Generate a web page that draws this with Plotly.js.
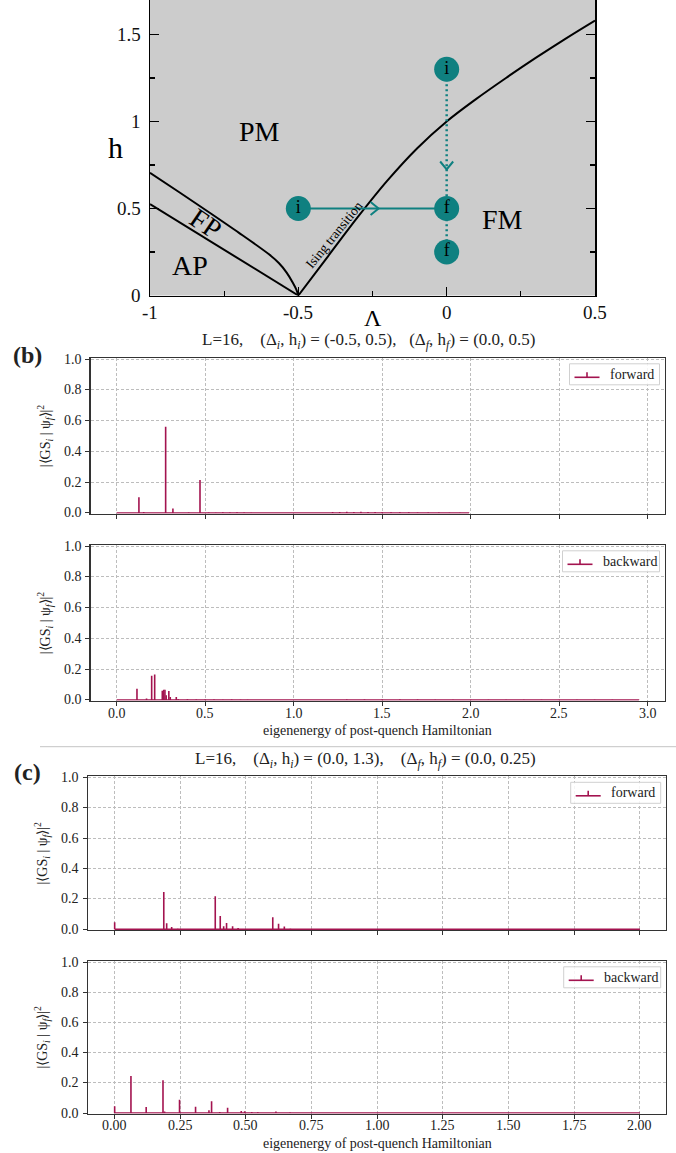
<!DOCTYPE html>
<html>
<head>
<meta charset="utf-8">
<script src="https://cdn.plot.ly/plotly-3.0.1.min.js"></script>
<style>html,body{margin:0;padding:0;background:#fff;}#plot{width:676px;height:1153px;}</style>
</head>
<body>
<div id="plot"></div>
<script>
// ---------------- data ----------------
// phase diagram boundaries (Lambda, h)
const isingLam = [-0.5,-0.4,-0.3,-0.2,-0.1,0,0.1,0.2,0.3,0.4,0.5];
const isingH   = [0,0.225,0.45,0.66,0.845,1.0,1.13,1.25,1.365,1.475,1.58];
const fpUpperLam = [-1,-0.9,-0.8,-0.7,-0.6,-0.565,-0.54,-0.52,-0.507,-0.5];
const fpUpperH   = [0.705,0.592,0.477,0.36,0.238,0.185,0.133,0.078,0.035,0];
const fpLowerLam = [-1,-0.5];
const fpLowerH   = [0.525,0];
// quench points
const quenchBLam = [-0.5,0];  const quenchBH = [0.5,0.5];
const quenchCLam = [0,0];     const quenchCH = [1.3,0.25];
const quenchPtLam = [-0.5,0,0,0];
const quenchPtH   = [0.5,0.5,1.3,0.25];
const quenchPtTxt = ['i','f','i','f'];
// region labels
const regionTxt = ['PM','FM','AP','FP'];
const regionLam = [-0.63,0.187,-0.864,-0.813];
const regionH   = [0.941,0.434,0.175,0.411];
// phase diagram ticks
const phXTicks = [-1,-0.5,0,0.5];   const phXText = ['-1','-0.5','0','0.5'];
const phYTicks = [0,0.5,1,1.5];     const phYText = ['0','0.5','1','1.5'];
const phXMinor = [-0.75,-0.25,0.25];
const phYMinor = [0.25,0.75,1.25];

// (b) forward / backward overlaps
const bFwdE = [0.0,0.126,0.153,0.277,0.318,0.407,0.471,0.52,0.56,0.60,0.64,0.68,0.72,0.76,1.22,1.26,1.30,1.34,1.38,1.42,1.46,1.50,1.55,1.60,1.65,1.70,1.76,1.82,1.88,1.94,1.99];
const bFwdP = [0.0,0.102,0.007,0.560,0.029,0.003,0.214,0.003,0.002,0.004,0.003,0.004,0.003,0.002,0.006,0.007,0.008,0.007,0.008,0.006,0.006,0.005,0.005,0.004,0.004,0.003,0.003,0.003,0.002,0.002,0.002];
const bBwdE = [0.0,0.115,0.169,0.198,0.215,0.258,0.266,0.273,0.28,0.295,0.303,0.337,0.348,0.40,0.45,0.50,0.55,0.60,0.65,0.70,0.74,1.30,1.40,1.50,1.60,1.70,1.80,1.90,2.00,2.10,2.20,2.30,2.40,2.50,2.60,2.70,2.80,2.95];
const bBwdP = [0.0,0.073,0.010,0.157,0.165,0.060,0.066,0.066,0.030,0.058,0.020,0.020,0.005,0.004,0.003,0.003,0.003,0.002,0.003,0.002,0.002,0.003,0.003,0.003,0.003,0.003,0.002,0.002,0.002,0.002,0.002,0.002,0.002,0.001,0.001,0.001,0.001,0.001];
// (c) forward / backward overlaps
const cFwdE = [0.0,0.187,0.198,0.217,0.24,0.383,0.402,0.415,0.426,0.449,0.47,0.602,0.624,0.646,0.669,0.75,1.0,1.25,1.5,1.75,2.0];
const cFwdP = [0.046,0.246,0.040,0.015,0.003,0.217,0.088,0.020,0.042,0.020,0.008,0.079,0.037,0.018,0.004,0.001,0.0005,0.0005,0.0005,0.0005,0.0005];
const cBwdE = [0.0,0.062,0.12,0.184,0.19,0.247,0.308,0.359,0.369,0.40,0.43,0.482,0.495,0.522,0.545,0.614,0.668,0.75,1.0,1.25,1.5,1.75,2.0];
const cBwdP = [0.044,0.245,0.040,0.217,0.010,0.088,0.042,0.018,0.077,0.006,0.035,0.014,0.012,0.006,0.005,0.010,0.003,0.0005,0.0005,0.0005,0.0005,0.0005,0.0005];

const stemYTicks = [0,0.2,0.4,0.6,0.8,1.0];
const stemYText  = ['0.0','0.2','0.4','0.6','0.8','1.0'];
const bXTicks = [0,0.5,1.0,1.5,2.0,2.5,3.0];
const bXText  = ['0.0','0.5','1.0','1.5','2.0','2.5','3.0'];
const cXTicks = [0,0.25,0.5,0.75,1.0,1.25,1.5,1.75,2.0];
const cXText  = ['0.00','0.25','0.50','0.75','1.00','1.25','1.50','1.75','2.00'];

// ---------------- style / layout helpers ----------------
const W = 676, H = 1153;
const px = v => v / W;
const py = v => 1 - v / H;
const SERIF = 'Liberation Serif, serif';
const teal = '#0f8080';
const stemColor = '#a3134f';
const gridColor = '#bdbdbd';

const traces = [];
// phase diagram
traces.push({x: fpLowerLam, y: fpLowerH, mode:'lines', line:{color:'#000',width:2}, xaxis:'x', yaxis:'y', hoverinfo:'skip'});
traces.push({x: fpUpperLam, y: fpUpperH, mode:'lines', line:{color:'#000',width:2, shape:'spline', smoothing:0.8}, xaxis:'x', yaxis:'y', hoverinfo:'skip'});
traces.push({x: isingLam, y: isingH, mode:'lines', line:{color:'#000',width:2, shape:'spline', smoothing:1}, xaxis:'x', yaxis:'y', hoverinfo:'skip'});
traces.push({x: quenchBLam, y: quenchBH, mode:'lines', line:{color:teal,width:2}, xaxis:'x', yaxis:'y', hoverinfo:'skip'});
traces.push({x: quenchCLam, y: quenchCH, mode:'lines', line:{color:teal,width:2.5,dash:'2px,3px'}, xaxis:'x', yaxis:'y', hoverinfo:'skip'});
traces.push({x: quenchPtLam, y: quenchPtH, text: quenchPtTxt, mode:'markers+text', textposition:'middle center',
  textfont:{family:SERIF,size:18,color:'#000'}, marker:{size:25,color:teal,line:{width:0}}, xaxis:'x', yaxis:'y', hoverinfo:'skip', cliponaxis:false});

function stem(E, P, xa, ya) {
  const xs = [], ys = [];
  E.forEach((e, i) => { xs.push(e, e, null); ys.push(0, P[i], null); });
  traces.push({x: xs, y: ys, mode:'lines', line:{color:stemColor,width:1.6}, xaxis:xa, yaxis:ya, hoverinfo:'skip', connectgaps:false});
  traces.push({x: [Math.min(...E), Math.max(...E)], y:[0,0], mode:'lines', line:{color:stemColor,width:1.6}, xaxis:xa, yaxis:ya, hoverinfo:'skip'});
}
stem(bFwdE, bFwdP, 'x2', 'y2');
stem(bBwdE, bBwdP, 'x3', 'y3');
stem(cFwdE, cFwdP, 'x4', 'y4');
stem(cBwdE, cBwdP, 'x5', 'y5');

// panel frames (pixels)
const bL = 90.5, bR = 665, cL = 88.4, cR = 666.2;
const panels = [
  {ya:'yaxis2', xa:'xaxis2', top:357.8, bot:513.6, L:bL, R:bR, range:[-0.1475,3.0975], tv:bXTicks, tt:bXText, labels:false, leg:'forward'},
  {ya:'yaxis3', xa:'xaxis3', top:544.8, bot:700.6, L:bL, R:bR, range:[-0.1475,3.0975], tv:bXTicks, tt:bXText, labels:true, leg:'backward', labY:713},
  {ya:'yaxis4', xa:'xaxis4', top:776.3, bot:929.9, L:cL, R:cR, range:[-0.1,2.1], tv:cXTicks, tt:cXText, labels:false, leg:'forward'},
  {ya:'yaxis5', xa:'xaxis5', top:960.8, bot:1113.6, L:cL, R:cR, range:[-0.1,2.1], tv:cXTicks, tt:cXText, labels:true, leg:'backward', labY:1125}
];

const layout = {
  width: W, height: H,
  margin: {l:0, r:0, t:0, b:0, pad:0},
  paper_bgcolor: '#fff', plot_bgcolor: 'rgba(0,0,0,0)',
  showlegend: false,
  font: {family: SERIF, color:'#000'},
  xaxis: {domain:[px(150), px(595)], range:[-1,0.5], anchor:'y', showgrid:false, zeroline:false,
    showline:true, linecolor:'#000', linewidth:1.5, mirror:false,
    tickmode:'array', tickvals: phXTicks, ticks:'inside', ticklen:9, tickwidth:1.2, tickcolor:'#000',
    minor:{tickvals: phXMinor, ticks:'inside', ticklen:5, tickwidth:1.2, tickcolor:'#000', showgrid:false},
    showticklabels:false, automargin:false, fixedrange:true},
  yaxis: {domain:[py(295.5), 1], range:[0,1.698], anchor:'x', showgrid:false, zeroline:false,
    showline:true, linecolor:'#000', linewidth:1.5, mirror:'ticks',
    tickmode:'array', tickvals: phYTicks, ticks:'inside', ticklen:9, tickwidth:1.2, tickcolor:'#000',
    minor:{tickvals: phYMinor, ticks:'inside', ticklen:5, tickwidth:1.2, tickcolor:'#000', showgrid:false},
    showticklabels:false, automargin:false, fixedrange:true},
  shapes: [], annotations: []
};

// phase diagram tick labels (positioned through the axes)
phXTicks.forEach((v, i) => layout.annotations.push({xref:'x', yref:'paper', x:v, y:py(312), text:phXText[i], showarrow:false,
  xanchor:'center', yanchor:'middle', font:{family:SERIF,size:19,color:'#111'}}));
phYTicks.forEach((v, i) => layout.annotations.push({xref:'paper', yref:'y', x:px(143), y:v, text:phYText[i], showarrow:false,
  xanchor:'right', yanchor:'middle', font:{family:SERIF,size:19,color:'#111'}}));

panels.forEach((p, i) => {
  const yid = 'y' + (i + 2), xid = 'x' + (i + 2);
  layout[p.xa] = {domain:[px(p.L), px(p.R)], range:p.range, anchor:yid, zeroline:false,
    showgrid:true, gridcolor:gridColor, griddash:'3px,2px', gridwidth:1,
    showline:true, mirror:true, linecolor:'#333', linewidth:1.2,
    tickmode:'array', tickvals:p.tv, ticks:'outside', ticklen:4, tickwidth:1, tickcolor:'#333',
    showticklabels:false, automargin:false, fixedrange:true};
  layout[p.ya] = {domain:[py(p.bot), py(p.top)], range:[-0.004,1.008], anchor:xid, zeroline:false,
    showgrid:true, gridcolor:gridColor, griddash:'3px,2px', gridwidth:1,
    showline:true, mirror:true, linecolor:'#333', linewidth:1.2,
    tickmode:'array', tickvals:stemYTicks, ticks:'outside', ticklen:4, tickwidth:1, tickcolor:'#333',
    showticklabels:false, automargin:false, fixedrange:true};
  // tick labels
  stemYTicks.forEach((v, k) => layout.annotations.push({xref:'paper', yref:yid, x:px(p.L - 7), y:v, text:stemYText[k], showarrow:false,
    xanchor:'right', yanchor:'middle', font:{family:SERIF,size:14,color:'#222'}}));
  if (p.labels) p.tv.forEach((v, k) => layout.annotations.push({xref:xid, yref:'paper', x:v, y:py(p.labY), text:p.tt[k], showarrow:false,
    xanchor:'center', yanchor:'middle', font:{family:SERIF,size:14,color:'#222'}}));
  // y-axis label
  layout.annotations.push({xref:'paper', yref:'paper', x:px(p.L - 46), y:py((p.top + p.bot) / 2),
    text:'|⟨GS<sub><i>i</i></sub> | ψ<sub><i>f</i></sub>⟩|<sup>2</sup>', textangle:-90, showarrow:false,
    xanchor:'center', yanchor:'middle', font:{family:SERIF,size:14,color:'#222'}});
  // custom stem legend
  const bw = p.leg === 'forward' ? 90 : 97;
  const lr = p.R - 5.5, lt = p.top + 6, lb = lt + 21, ll = lr - bw;
  const symY = lt + 13.5;
  layout.shapes.push({type:'rect', xref:'paper', yref:'paper', x0:px(ll), x1:px(lr), y0:py(lb), y1:py(lt),
    line:{color:'#d0d0d0', width:1}, fillcolor:'rgba(255,255,255,0.85)', layer:'above'});
  layout.shapes.push({type:'line', xref:'paper', yref:'paper', x0:px(ll + 5), x1:px(ll + 30), y0:py(symY), y1:py(symY),
    line:{color:stemColor, width:1.6}, layer:'above'});
  layout.shapes.push({type:'line', xref:'paper', yref:'paper', x0:px(ll + 17.5), x1:px(ll + 17.5), y0:py(symY), y1:py(symY - 5),
    line:{color:stemColor, width:1.6}, layer:'above'});
  layout.annotations.push({xref:'paper', yref:'paper', x:px(ll + 38), y:py(lt + 10.5), text:p.leg, showarrow:false,
    xanchor:'left', yanchor:'middle', font:{family:SERIF,size:14,color:'#222'}});
});

// phase diagram background
layout.shapes.push({type:'rect', xref:'x domain', yref:'y domain', x0:0, x1:1, y0:0, y1:1, fillcolor:'#cccccc', line:{width:0}, layer:'below'});
// chevrons on quench paths
layout.shapes.push({type:'path', xref:'x', yref:'y', xsizemode:'pixel', ysizemode:'pixel', xanchor:-0.243, yanchor:0.5,
  path:'M -4 6.5 L 4 0 L -4 -6.5', line:{color:teal, width:2}});
layout.shapes.push({type:'path', xref:'x', yref:'y', xsizemode:'pixel', ysizemode:'pixel', xanchor:0, yanchor:0.747,
  path:'M -6.5 4 L 0 -4 L 6.5 4', line:{color:teal, width:2}});
// separator
layout.shapes.push({type:'line', xref:'paper', yref:'paper', x0:px(40), x1:1, y0:py(746.7), y1:py(746.7), line:{color:'#c4c4c4', width:1}});

// phase diagram text
regionTxt.forEach((t, i) => {
  layout.annotations.push({xref:'x', yref:'y', x:regionLam[i], y:regionH[i], text:t, showarrow:false,
    xanchor:'center', yanchor:'middle', textangle: t === 'FP' ? 34 : 0, font:{family:SERIF,size:28,color:'#000'}});
});
layout.annotations.push({xref:'x', yref:'y', x:-0.379, y:0.352, text:'Ising transition', showarrow:false,
  textangle:-51, xanchor:'center', yanchor:'middle', font:{family:SERIF,size:13.5,color:'#000'}});
layout.annotations.push({xref:'paper', yref:'paper', x:px(115), y:py(147), text:'h', showarrow:false,
  xanchor:'center', yanchor:'middle', font:{family:SERIF,size:30,color:'#000'}});
layout.annotations.push({xref:'paper', yref:'paper', x:px(373), y:py(318), text:'Λ', showarrow:false,
  xanchor:'center', yanchor:'middle', font:{family:SERIF,size:24,color:'#000'}});

// panel titles and labels
const sp = '\u00a0';
layout.annotations.push({xref:'paper', yref:'paper', x:px(368), y:py(341),
  text:'L=16,'+sp.repeat(4)+'(Δ<sub><i>i</i></sub>, h<sub><i>i</i></sub>) = (-0.5, 0.5),'+sp.repeat(3)+'(Δ<sub><i>f</i></sub>, h<sub><i>f</i></sub>) = (0.0, 0.5)',
  showarrow:false, xanchor:'center', yanchor:'middle', font:{family:SERIF,size:17,color:'#222'}});
layout.annotations.push({xref:'paper', yref:'paper', x:px(365), y:py(760),
  text:'L=16,'+sp.repeat(4)+'(Δ<sub><i>i</i></sub>, h<sub><i>i</i></sub>) = (0.0, 1.3),'+sp.repeat(4)+'(Δ<sub><i>f</i></sub>, h<sub><i>f</i></sub>) = (0.0, 0.25)',
  showarrow:false, xanchor:'center', yanchor:'middle', font:{family:SERIF,size:17,color:'#222'}});
layout.annotations.push({xref:'paper', yref:'paper', x:px(27), y:py(355), text:'<b>(b)</b>', showarrow:false,
  xanchor:'center', yanchor:'middle', font:{family:SERIF,size:24,color:'#222'}});
layout.annotations.push({xref:'paper', yref:'paper', x:px(27), y:py(772), text:'<b>(c)</b>', showarrow:false,
  xanchor:'center', yanchor:'middle', font:{family:SERIF,size:24,color:'#222'}});
layout.annotations.push({xref:'paper', yref:'paper', x:px(377), y:py(730), text:'eigenenergy of post-quench Hamiltonian', showarrow:false,
  xanchor:'center', yanchor:'middle', font:{family:SERIF,size:14,color:'#222'}});
layout.annotations.push({xref:'paper', yref:'paper', x:px(377), y:py(1143), text:'eigenenergy of post-quench Hamiltonian', showarrow:false,
  xanchor:'center', yanchor:'middle', font:{family:SERIF,size:14,color:'#222'}});

Plotly.newPlot('plot', traces, layout, {staticPlot:true, displayModeBar:false});
</script>
</body>
</html>
